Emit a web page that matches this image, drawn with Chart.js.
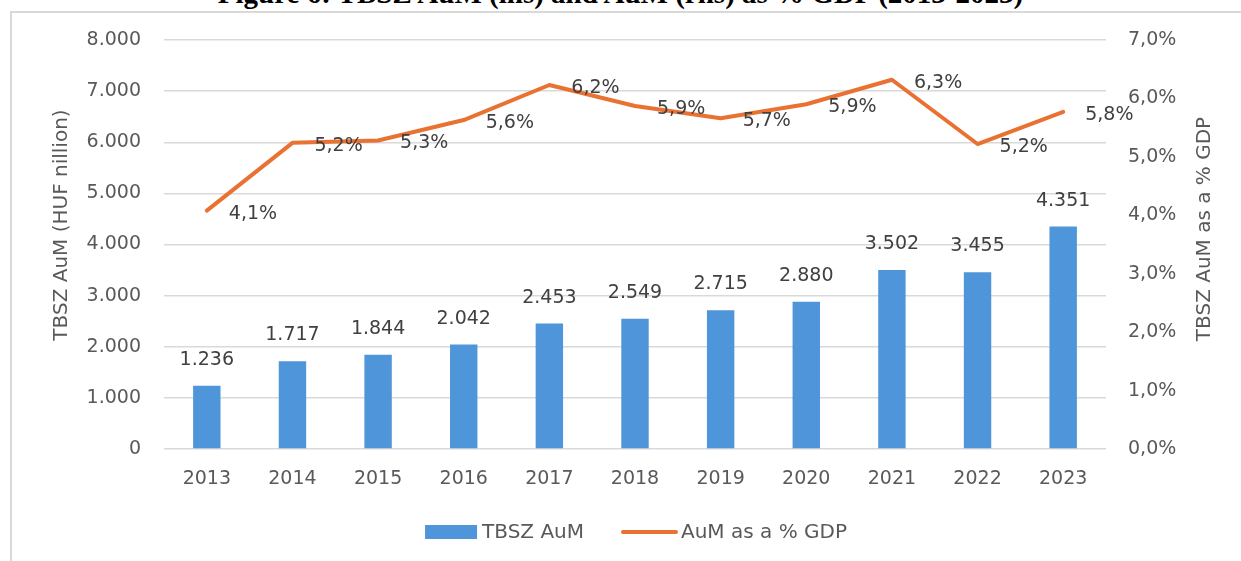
<!DOCTYPE html>
<html>
<head>
<meta charset="utf-8">
<script src="https://cdn.jsdelivr.net/npm/chart.js@4/dist/chart.umd.min.js"></script>
<style>
  html, body { margin: 0; padding: 0; background: #fff; overflow: hidden; }
  #wrap { position: relative; width: 1241px; height: 561px; }
  #frame { position: absolute; left: 10px; top: 11px; width: 1400px; height: 700px; border: 2px solid #d9d9d9; box-sizing: border-box; }
  #title { position: absolute; left: 0; width: 1241px; top: -21px; text-align: center; font: bold 29px "Liberation Serif", "Times New Roman", serif; line-height: 29px; color: #000; white-space: nowrap; }
  #box { position: absolute; left: 0; top: 0; width: 1241px; height: 561px; }
</style>
</head>
<body>
<div id="wrap">
  <div id="frame"></div>
  <div id="title">Figure 6: TBSZ AuM (lhs) and AuM (rhs) as % GDP (2013-2023)</div>
  <div id="box"><canvas id="aumChart"></canvas></div>
</div>
<script>
// TBSZ assets under management, 2013-2023
const years = ['2013', '2014', '2015', '2016', '2017', '2018', '2019', '2020', '2021', '2022', '2023'];
const aum = [1236, 1717, 1844, 2042, 2453, 2549, 2715, 2880, 3502, 3455, 4351];   // HUF billion (lhs)
const aumPctGdp = [4.08, 5.24, 5.28, 5.63, 6.23, 5.87, 5.66, 5.9, 6.32, 5.22, 5.77]; // % of GDP (rhs)
const leftTicks = [0, 1000, 2000, 3000, 4000, 5000, 6000, 7000, 8000];
const rightTicks = [0, 1, 2, 3, 4, 5, 6, 7];

const FONT = 'DejaVu Sans';
const BLUE = '#4e95d9';
const ORANGE = '#e97132';
const GREY = '#595959';

const thousands = v => String(v).replace(/\B(?=(\d{3})+(?!\d))/g, '.');
const pct = v => v.toFixed(1).replace('.', ',') + '%';

// data labels, both axis titles (read bottom-to-top) and the legend
const extras = {
  id: 'extras',
  afterDatasetsDraw(chart) {
    const ctx = chart.ctx;
    ctx.save();
    ctx.font = `19px "${FONT}"`;
    ctx.fillStyle = '#404040';
    ctx.textBaseline = 'alphabetic';
    chart.getDatasetMeta(1).data.forEach((bar, i) => {
      ctx.textAlign = 'center';
      ctx.fillText(thousands(aum[i]), bar.x, bar.y - 21);
    });
    chart.getDatasetMeta(0).data.forEach((pt, i) => {
      ctx.textAlign = 'left';
      ctx.fillText(pct(aumPctGdp[i]), pt.x + 22, pt.y + 8);
    });
    ctx.restore();
  },
  afterDraw(chart) {
    const ctx = chart.ctx;
    ctx.save();
    ctx.fillStyle = GREY;
    ctx.font = `20px "${FONT}"`;
    ctx.textAlign = 'center';
    ctx.textBaseline = 'middle';
    [['TBSZ AuM (HUF nillion)', 62, 225], ['TBSZ AuM as a % GDP', 1205, 229]].forEach(([t, x, y]) => {
      ctx.save();
      ctx.translate(x, y);
      ctx.rotate(-Math.PI / 2);
      ctx.fillText(t, 0, 0);
      ctx.restore();
    });

    // legend
    ctx.font = `20px "${FONT}"`;
    ctx.textAlign = 'left';
    const t1 = 'TBSZ AuM', t2 = 'AuM as a % GDP';
    const w1 = ctx.measureText(t1).width, w2 = ctx.measureText(t2).width;
    const total = 52 + 5 + w1 + 37 + 57 + 3 + w2;
    let x = 636 - total / 2;
    const y = 533;
    ctx.fillStyle = BLUE;
    ctx.fillRect(x, y - 8, 52, 14);
    x += 57;
    ctx.fillStyle = GREY;
    ctx.fillText(t1, x, y);
    x += w1 + 37;
    ctx.strokeStyle = ORANGE;
    ctx.lineWidth = 4;
    ctx.lineCap = 'round';
    ctx.beginPath();
    ctx.moveTo(x + 2, y - 1);
    ctx.lineTo(x + 55, y - 1);
    ctx.stroke();
    x += 60;
    ctx.fillText(t2, x, y);
    ctx.restore();
  }
};

new Chart(document.getElementById('aumChart'), {
  type: 'bar',
  data: {
    labels: years,
    datasets: [
      {
        type: 'line',
        label: 'AuM as a % GDP',
        data: aumPctGdp,
        yAxisID: 'y1',
        borderColor: ORANGE,
        backgroundColor: ORANGE,
        borderWidth: 4,
        pointRadius: 0,
        tension: 0,
        borderJoinStyle: 'round',
        borderCapStyle: 'round',
        order: 0
      },
      {
        type: 'bar',
        label: 'TBSZ AuM',
        data: aum,
        yAxisID: 'y',
        backgroundColor: BLUE,
        barPercentage: 0.4,
        categoryPercentage: 0.8,
        order: 1
      }
    ]
  },
  options: {
    responsive: true,
    maintainAspectRatio: false,
    animation: false,
    layout: { padding: { top: 40, left: 0, right: 0, bottom: 70 } },
    plugins: {
      tooltip: { enabled: false },
      legend: { display: false }
    },
    scales: {
      x: {
        grid: { display: false },
        border: { display: false },
        ticks: { color: GREY, font: { family: FONT, size: 19 }, padding: 11, maxRotation: 0 },
        afterFit: s => { s.height = 42; }
      },
      y: {
        position: 'left',
        min: 0,
        max: 8000,
        afterBuildTicks: s => { s.ticks = leftTicks.map(v => ({ value: v })); },
        ticks: { color: GREY, font: { family: FONT, size: 19 }, padding: 23, callback: v => thousands(v) },
        grid: { color: '#d9d9d9', lineWidth: 1.5, drawTicks: false },
        border: { display: false },
        afterFit: s => { s.width = 164; }
      },
      y1: {
        position: 'right',
        min: 0,
        max: 7,
        afterBuildTicks: s => { s.ticks = rightTicks.map(v => ({ value: v })); },
        ticks: { color: GREY, font: { family: FONT, size: 19 }, padding: 22, callback: v => pct(v) },
        grid: { drawOnChartArea: false, drawTicks: false },
        border: { display: false },
        afterFit: s => { s.width = 135; }
      }
    }
  },
  plugins: [extras]
});
</script>
</body>
</html>
